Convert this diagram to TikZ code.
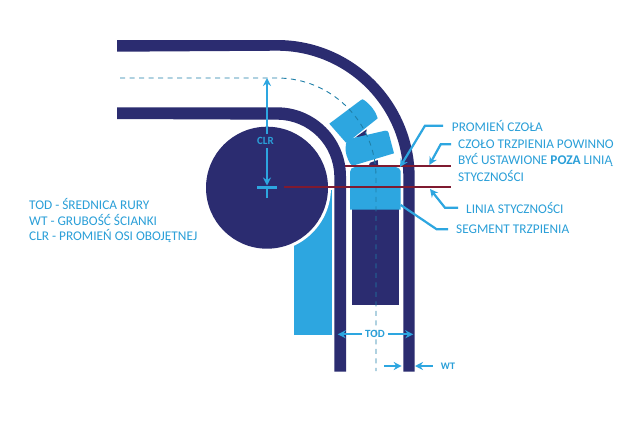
\documentclass[tikz,border=0pt]{standalone}
\usepackage{fontspec}
\setmainfont{Carlito}
\usetikzlibrary{arrows.meta}
\definecolor{navy}{HTML}{2B2C70}
\definecolor{sky}{HTML}{2DA6E0}
\definecolor{txtblue}{HTML}{2A9FD8}
\definecolor{wine}{HTML}{7F1A30}
\definecolor{dashc}{HTML}{1F7FA8}
\tikzset{
  pipe/.style={fill=navy,draw=none},
  seg/.style={fill=sky,draw=none},
  tan/.style={draw=wine,line width=1.8pt},
  lead/.style={draw=sky,line width=2.2pt,-{Stealth[length=8pt,width=8pt]}},
  plainlead/.style={draw=sky,line width=2.2pt},
  lab/.style={text=txtblue,font=\fontsize{13.3}{15}\selectfont,anchor=west,inner sep=0pt},
  dim/.style={text=txtblue,font=\fontsize{11}{12}\selectfont\bfseries,inner sep=0pt},
  axis/.style={draw=dashc,line width=0.9pt,dash pattern=on 5pt off 4.5pt}
}
\begin{document}
\begin{tikzpicture}[x=1pt,y=-1pt]
\useasboundingbox[fill=white] (0,0) rectangle (641,421);
% pipe
\fill[pipe] (117,40) -- (277,40) arc[start angle=-90,end angle=0,radius=137.7] -- (414.7,371.5) -- (403.3,371.5) -- (403.3,177) arc[start angle=0,end angle=-90,radius=126.3] -- (117,51.7) -- cycle;
\fill[pipe] (117,107.3) -- (277,107.3) arc[start angle=-90,end angle=0,radius=69] -- (346,371.5) -- (334.3,371.5) -- (334.3,177) arc[start angle=0,end angle=-90,radius=57.3] -- (117,119) -- cycle;
% wiper
\fill[seg] (294,335) -- (294,190) -- (331.7,190) -- (331.7,335) -- cycle;
\fill[white] (267,187.7) circle[radius=64];
\fill[navy] (267,187.7) circle[radius=61];
% mandrel
\fill[pipe] (351.7,205) rectangle (399,305);
\fill[pipe] (355,137.7) -- (366.7,129.3) -- (365.7,136) -- cycle;
\fill[pipe] (368.3,167) -- (370,162.7) -- (377.7,160) -- (378.3,167) -- cycle;
\fill[seg] (329.3,123.7) -- (361,100) .. controls (362,99) and (363,99) .. (364,100) .. controls (371,105) and (376,112) .. (377.7,118.3) -- (353,138) -- (346,142.7) -- cycle;
\fill[seg] (349,139) -- (385,130.7) .. controls (387,130.5) and (388,131) .. (388.5,132.5) -- (394,153.3) -- (355,165) .. controls (352,166) and (351,165) .. (350,163.3) .. controls (347,158) and (345,152) .. (345.7,146.7) .. controls (346,142) and (347,139.5) .. (349,139) -- cycle;
\fill[seg,rounded corners=4pt] (350,209.5) [sharp corners] -- (350,175) [rounded corners=5pt] -- (350,167) -- (400.7,167) -- (400.7,175) [sharp corners] -- (400.7,209.5) -- cycle;
% axis
\coordinate (axA) at (120,78);
\coordinate (axB) at (277,78);
\coordinate (axC) at (376,371);
\draw[axis] (axA) -- (axB) arc[start angle=-90,end angle=0,radius=99] -- (axC);
% tangent lines
\coordinate (t1a) at (345,166.3); \coordinate (t1b) at (451,166.3);
\coordinate (t2a) at (284,187.3); \coordinate (t2b) at (451,187.3);
\draw[tan] (t1a) -- (t1b);
\draw[tan] (t2a) -- (t2b);
% CLR
\node[dim] (clr) at (265.5,141) {CLR};
\coordinate (clrT) at (267,78); \coordinate (clrB) at (267,185.5);
\draw[lead] (267,134) -- (clrT);
\draw[lead] (267,148) -- (clrB);
\coordinate (cL) at (257,187.5); \coordinate (cR) at (277,187.5); \coordinate (cM) at (267,187.5); \coordinate (cD) at (267,198);
\draw[plainlead] (cL) -- (cR);
\draw[plainlead] (cM) -- (cD);
% TOD
\node[dim] (tod) at (375,334.3) {TOD};
\coordinate (todL) at (337.7,334.3); \coordinate (todR) at (413.3,334.3);
\draw[lead] (tod.west)++(-3,0) -- (todL);
\draw[lead] (tod.east)++(3,0) -- (todR);
% WT
\node[dim,font=\fontsize{10}{11}\selectfont\bfseries] (wt) at (448,366) {WT};
\coordinate (wa) at (384,366); \coordinate (wb) at (401.7,366); \coordinate (wc) at (432.7,366); \coordinate (wd) at (415,366);
\draw[lead] (wa) -- (wb);
\draw[lead] (wc) -- (wd);
% labels
\node[lab] (l1) at (451.7,126) {PROMIEŃ CZOŁA};
\node[lab] (l2) at (458,144.3) {CZOŁO TRZPIENIA POWINNO};
\node[lab] (l2b) at (458,160) {BYĆ USTAWIONE \textbf{POZA} LINIĄ};
\node[lab] (l2c) at (458,175.5) {STYCZNOŚCI};
\node[lab] (l3) at (466,208) {LINIA STYCZNOŚCI};
\node[lab] (l4) at (456,229.5) {SEGMENT TRZPIENIA};
\node[lab] (t1) at (29,204) {TOD - ŚREDNICA RURY};
\node[lab] (t2) at (29,220) {WT - GRUBOŚĆ ŚCIANKI};
\node[lab] (t3) at (29,236) {CLR - PROMIEŃ OSI OBOJĘTNEJ};
% leaders
\coordinate (p1) at (443,125.7); \coordinate (p2) at (425,125.7); \coordinate (p3) at (400,167);
\draw[lead] (p1) -- (p2) -- (p3);
\coordinate (q1) at (451,144.3); \coordinate (q2) at (440.7,144.3); \coordinate (q3) at (429.3,165);
\draw[lead] (q1) -- (q2) -- (q3);
\coordinate (r1) at (458,207.7); \coordinate (r2) at (445,207.7); \coordinate (r3) at (430,189);
\draw[lead] (r1) -- (r2) -- (r3);
\coordinate (s1) at (448,229.3); \coordinate (s2) at (436.7,229.3); \coordinate (s3) at (400.7,205);
\draw[plainlead] (s1) -- (s2) -- (s3);
\end{tikzpicture}
\end{document}
